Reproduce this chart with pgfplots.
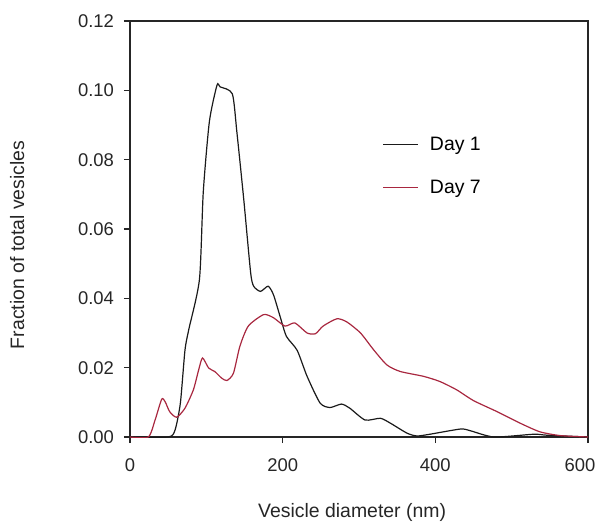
\documentclass[border=0pt]{standalone}
\usepackage{pgfplots}
\pgfplotsset{compat=1.18}
\usepackage{fontspec}
\setmainfont{Liberation Sans}
\definecolor{dayone}{HTML}{1A1A1A}
\definecolor{dayseven}{HTML}{A8273F}

\begin{document}
\begin{tikzpicture}
\begin{axis}[
    name=ax,
    scale only axis,
    width=458bp, height=416bp,
    xmin=0, xmax=600,
    ymin=0, ymax=0.12,
    xtick={0,200,400},
    extra x ticks={600},
    extra x tick style={x tick label style={xshift=-8bp}},
    ytick={0,0.02,0.04,0.06,0.08,0.10,0.12},
    y tick label style={/pgf/number format/fixed, /pgf/number format/fixed zerofill,
        /pgf/number format/precision=2, xshift=-6.5bp},
    /pgf/number format/assume math mode=true,
    tick align=outside, tick pos=left,
    major tick length=6bp,
    axis line style={line width=1.1bp, color=black!85},
    tick style={line width=1.1bp, color=black!85},
    ticklabel style={font=\fontsize{18.5}{22}\selectfont, color=black!85},
    x tick label style={yshift=-12bp},
    label style={font=\fontsize{19.5}{23}\selectfont, color=black!85},
    xlabel={Vesicle diameter (nm)},
    ylabel={Fraction of total vesicles},
    xlabel style={at={(ticklabel cs:0.485)}, yshift=-13bp},
    ylabel style={at={(ticklabel cs:0.462)}, yshift=47bp},
    legend style={at={(0.545,0.731)}, anchor=north west, draw=none, fill=none,
        font=\fontsize{19.5}{23}\selectfont, row sep=24bp},
    legend cell align=left,
    legend image code/.code={\draw[#1] (0bp,0bp) -- (35bp,0bp); \path (44bp,0bp);},
]
\addplot[dayone, line width=1.2bp, smooth, tension=0.4] coordinates {
 (0,0) (50,0) (59,0.002) (66,0.0098) (72,0.025) (77,0.031) (91,0.0455)
 (96,0.0707) (104,0.091) (114,0.1015) (118,0.101) (134,0.099) (140,0.088)
 (149,0.0686) (158,0.0475) (162,0.0435) (171,0.042) (181,0.0435) (188,0.041)
 (197,0.0345) (205,0.029) (219,0.025) (232,0.0175) (249,0.0098) (262,0.0085)
 (277,0.0095) (288,0.0083) (308,0.0049) (328,0.0054) (341,0.004) (363,0.0011)
 (376,0.0003) (393,0.0008) (433,0.0023) (446,0.0018) (477,0.0) (529,0.0008)
 (547,0.0005) (600,0)
};
\addlegendentry{Day 1}
\addplot[dayseven, line width=1.2bp, smooth, tension=0.4] coordinates {
 (0,0) (24,0) (33,0.005) (41.5,0.0109) (46,0.0102) (52,0.0073) (61,0.0057)
 (72,0.0083) (83,0.0136) (90,0.0194) (95,0.0228) (103,0.0199) (111,0.0189)
 (120,0.017) (127,0.0163) (135.5,0.0184) (144,0.0262) (155,0.032) (175,0.0353)
 (188,0.0344) (203,0.032) (216,0.0329) (232,0.030) (243,0.0298) (253,0.032)
 (271,0.0341) (284,0.0332) (302,0.030) (319,0.0252) (336.5,0.0208) (354,0.0189)
 (384.5,0.0175) (406,0.016) (428,0.0136) (450,0.0105) (481,0.0073) (511,0.004)
 (537,0.0015) (564,0.0004) (600,0)
};
\addlegendentry{Day 7}
\end{axis}
\useasboundingbox ([xshift=-130bp,yshift=-83bp]ax.south west)
    rectangle ([xshift=11bp,yshift=21bp]ax.north east);
\end{tikzpicture}
\end{document}
